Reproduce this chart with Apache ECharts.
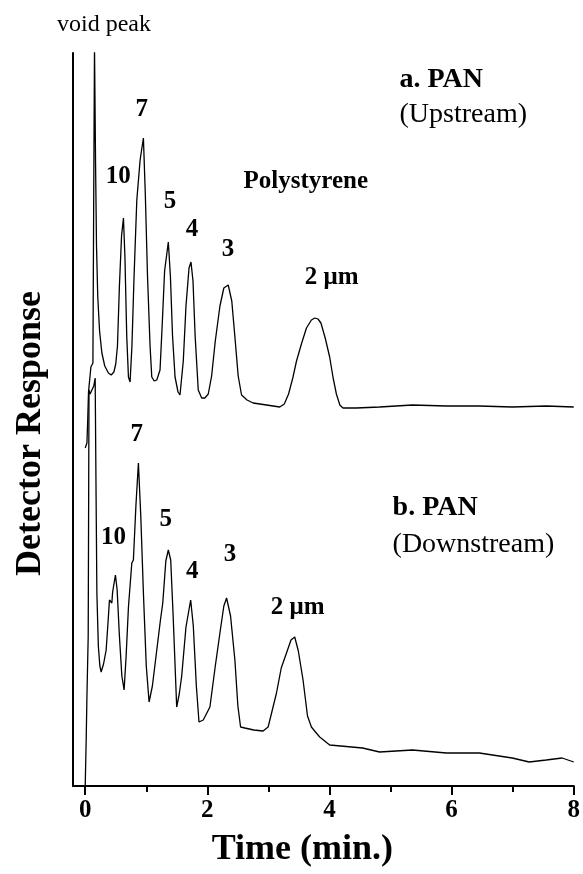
<!DOCTYPE html>
<html>
<head>
<meta charset="utf-8">
<title>Detector Response</title>
<script src="https://cdn.jsdelivr.net/npm/echarts@6.0.0/dist/echarts.min.js"></script>
<style>
  html, body { margin: 0; padding: 0; background: #fff; }
  #chart { width: 583px; height: 874px; }
</style>
</head>
<body>
<div id="chart"></div>
<script>
// trace a: PAN upstream, [time (min), response]
var upstream = [
  [0, 338], [0.028, 343], [0.041, 366], [0.054, 394], [0.093, 419], [0.126, 423],
  [0.139, 586], [0.152, 740], [0.170, 620], [0.185, 540], [0.205, 490], [0.235, 455],
  [0.273, 433], [0.320, 420], [0.380, 413], [0.425, 411], [0.470, 414], [0.500, 422],
  [0.528, 440], [0.560, 500], [0.595, 550], [0.626, 568], [0.650, 530], [0.680, 450],
  [0.708, 409], [0.735, 404], [0.765, 440], [0.800, 510], [0.845, 586], [0.899, 626],
  [0.953, 648], [0.985, 590], [1.020, 510], [1.062, 440], [1.090, 409], [1.130, 405],
  [1.172, 406], [1.225, 416], [1.260, 460], [1.300, 515], [1.361, 544], [1.395, 510],
  [1.430, 450], [1.471, 409], [1.520, 394], [1.552, 391], [1.606, 425], [1.650, 480],
  [1.700, 518], [1.732, 524], [1.765, 505], [1.800, 450], [1.851, 396], [1.907, 388],
  [1.960, 388], [2.015, 392], [2.070, 410], [2.130, 445], [2.206, 480], [2.270, 498],
  [2.342, 501], [2.400, 485], [2.450, 450], [2.505, 410], [2.560, 391], [2.650, 386],
  [2.750, 383], [2.969, 381], [3.186, 379], [3.260, 382], [3.330, 392], [3.399, 408],
  [3.460, 425], [3.540, 442], [3.623, 458], [3.704, 466], [3.760, 468], [3.812, 467],
  [3.860, 463], [3.930, 448], [4.003, 429], [4.060, 408], [4.113, 392], [4.170, 381],
  [4.221, 378], [4.440, 378], [4.820, 379], [5.359, 381], [5.915, 380], [6.454, 380],
  [6.993, 379], [7.549, 380], [8, 379]
];

// trace b: PAN downstream
var downstream = [
  [0, 0], [0.016, 46], [0.028, 89], [0.049, 150], [0.057, 300], [0.062, 396],
  [0.080, 392], [0.110, 396], [0.140, 400], [0.163, 408], [0.178, 290], [0.191, 193],
  [0.215, 140], [0.240, 120], [0.261, 114], [0.300, 122], [0.343, 136], [0.375, 165],
  [0.397, 186], [0.436, 183], [0.449, 194], [0.495, 211], [0.523, 196], [0.560, 150],
  [0.600, 110], [0.637, 96], [0.670, 130], [0.708, 179], [0.763, 223], [0.789, 226],
  [0.830, 280], [0.871, 323], [0.910, 270], [0.953, 193], [1.000, 120], [1.046, 84],
  [1.100, 100], [1.172, 136], [1.230, 165], [1.270, 183], [1.320, 225], [1.361, 236],
  [1.400, 226], [1.440, 170], [1.498, 79], [1.540, 92], [1.580, 110], [1.650, 159],
  [1.727, 186], [1.770, 160], [1.820, 100], [1.863, 64], [1.933, 66], [2.042, 79],
  [2.130, 120], [2.206, 153], [2.270, 180], [2.315, 188], [2.380, 170], [2.451, 126],
  [2.500, 80], [2.544, 59], [2.614, 58], [2.760, 56], [2.913, 55], [2.995, 59],
  [3.060, 75], [3.132, 93], [3.210, 118], [3.296, 133], [3.370, 146], [3.431, 149],
  [3.490, 135], [3.567, 106], [3.640, 70], [3.704, 59], [3.770, 54], [3.840, 49],
  [4.003, 41], [4.542, 38], [4.820, 34], [5.359, 36], [5.915, 33], [6.454, 33],
  [6.993, 28], [7.271, 24], [7.549, 26], [7.810, 28], [8, 24]
];

// peak annotations [time, response, text]
var peakLabels = [
  [0.539, 609, '10'], [0.926, 676, '7'], [1.389, 584, '5'], [1.748, 556, '4'],
  [2.337, 536, '3'], [4.036, 508, '2 μm'], [3.611, 604, 'Polystyrene'],
  [0.462, 248, '10'], [0.845, 351, '7'], [1.319, 266, '5'], [1.753, 214, '4'],
  [2.369, 231, '3'], [3.480, 178, '2 μm']
];
var panelTitles = [[5.147, 706, 'a. PAN'], [5.033, 278, 'b. PAN']];
var panelNotes = [[5.147, 671, '(Upstream)'], [5.033, 241, '(Downstream)']];

var majorTicks = [0, 2, 4, 6, 8];
var minorTicks = [1, 3, 5, 7];

var serif = 'Liberation Serif';

function textPoints(list, label) {
  return list.map(function (d) {
    return { value: [d[0], d[1]], name: d[2], label: label };
  });
}

var chart = echarts.init(document.getElementById('chart'));
chart.setOption({
  animation: false,
  backgroundColor: '#fff',
  grid: { left: 73, right: 8, top: 53, bottom: 88 },
  xAxis: [
    {
      type: 'value', min: -0.2, max: 8,
      name: 'Time (min.)', nameLocation: 'middle', nameGap: 46,
      nameTextStyle: { fontFamily: serif, fontWeight: 'bold', fontSize: 36, color: '#000', padding: [0, 42, 0, 0] },
      axisLine: { show: true, onZero: false, lineStyle: { color: '#000', width: 2 } },
      axisTick: { show: true, customValues: majorTicks, length: 9, lineStyle: { color: '#000', width: 2 } },
      axisLabel: { customValues: majorTicks, margin: 12, fontFamily: serif, fontWeight: 'bold', fontSize: 25, color: '#000' },
      splitLine: { show: false }
    },
    {
      type: 'value', min: -0.2, max: 8, position: 'bottom', offset: 0,
      axisLine: { show: false },
      axisTick: { show: true, customValues: minorTicks, length: 6, lineStyle: { color: '#000', width: 2 } },
      axisLabel: { show: false },
      splitLine: { show: false }
    }
  ],
  yAxis: {
    type: 'value', min: 0, max: 733,
    name: 'Detector Response', nameLocation: 'middle', nameGap: 24, nameRotate: 90,
    nameTextStyle: { fontFamily: serif, fontWeight: 'bold', fontSize: 36, color: '#000', padding: [0, 28, 0, 0] },
    axisLine: { show: true, onZero: false, lineStyle: { color: '#000', width: 2 } },
    axisTick: { show: false },
    axisLabel: { show: false },
    splitLine: { show: false }
  },
  graphic: [{
    type: 'text', x: 104, y: 25,
    style: { text: 'void peak', fontFamily: serif, fontSize: 24, fill: '#000', align: 'center', verticalAlign: 'middle' }
  }],
  series: [
    {
      name: 'a. PAN (Upstream)', type: 'line', data: upstream, showSymbol: false,
      lineStyle: { color: '#000', width: 1.3 }, clip: true
    },
    {
      name: 'b. PAN (Downstream)', type: 'line', data: downstream, showSymbol: false,
      lineStyle: { color: '#000', width: 1.3 }, clip: true
    },
    {
      type: 'scatter', symbolSize: 0, silent: true, clip: false,
      itemStyle: { opacity: 1 },
      data: textPoints(peakLabels, {
        show: true, position: 'inside', formatter: '{b}', textBorderWidth: 0,
        fontFamily: serif, fontWeight: 'bold', fontSize: 25, color: '#000'
      }).concat(textPoints(panelTitles, {
        show: true, position: 'inside', formatter: '{b}', align: 'left', textBorderWidth: 0,
        fontFamily: serif, fontWeight: 'bold', fontSize: 28, color: '#000'
      })).concat(textPoints(panelNotes, {
        show: true, position: 'inside', formatter: '{b}', align: 'left', textBorderWidth: 0,
        fontFamily: serif, fontWeight: 'normal', fontSize: 28, color: '#000'
      }))
    }
  ]
});
</script>
</body>
</html>
